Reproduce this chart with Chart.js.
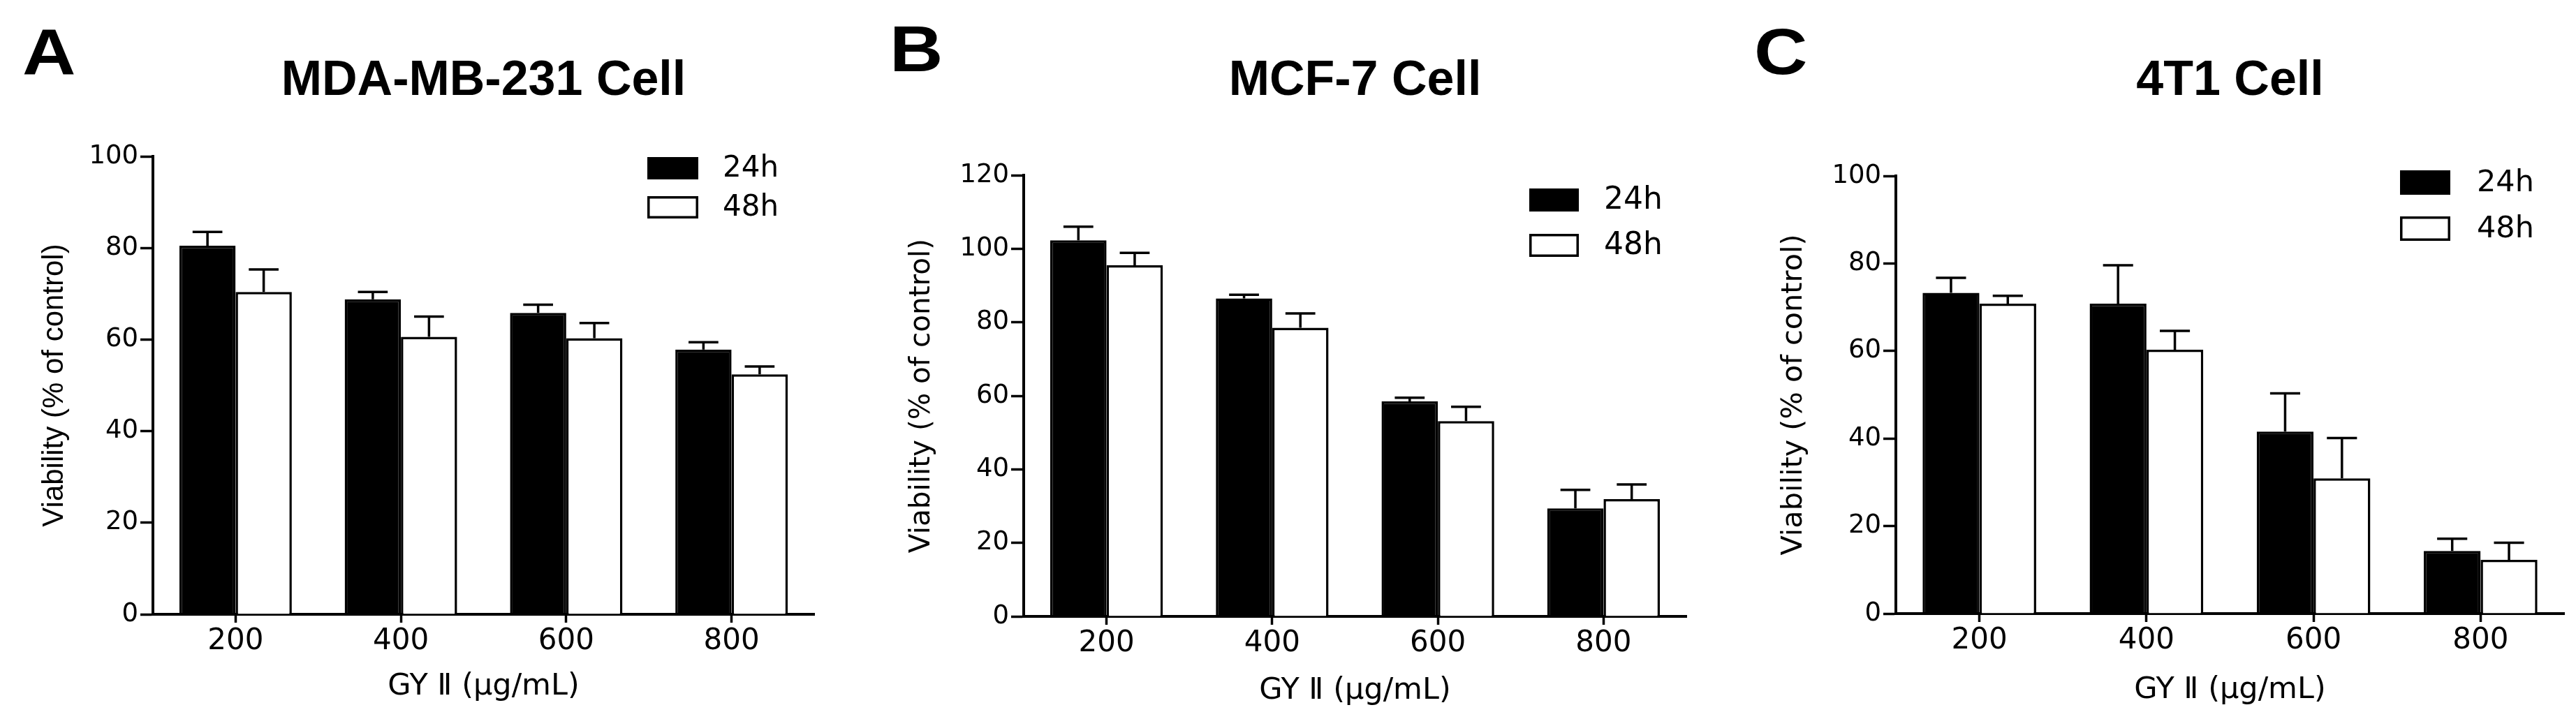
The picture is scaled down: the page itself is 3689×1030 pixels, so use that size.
<!DOCTYPE html>
<html><head><meta charset="utf-8">
<script src="https://cdn.jsdelivr.net/npm/chart.js@4.4.1/dist/chart.umd.min.js"></script>
<style>
html,body{margin:0;padding:0;background:#fff;}
body{width:3689px;height:1030px;position:relative;overflow:hidden;}
canvas{position:absolute;top:0;}
.letter{position:absolute;font-family:"Liberation Sans",Arial,sans-serif;font-weight:bold;font-size:92px;line-height:92px;color:#000;transform:scaleX(1.15);transform-origin:left top;}
</style></head><body>
<div class="letter" style="left:32px;top:28px">A</div>
<div class="letter" style="left:1274px;top:24px">B</div>
<div class="letter" style="left:2512px;top:28px">C</div>
<canvas id="cA" width="1230" height="1030" style="left:0px;width:1230px;height:1030px"></canvas>
<canvas id="cB" width="1230" height="1030" style="left:1230px;width:1230px;height:1030px"></canvas>
<canvas id="cC" width="1229" height="1030" style="left:2460px;width:1229px;height:1030px"></canvas>
<script>
// ---------- data ----------
const categories = ['200', '400', '600', '800'];
const seriesLabels = ['24h', '48h'];
const xTitle = 'GY \u2161 (\u00b5g/mL)';
const yTitle = 'Viability (% of control)';

const titleA = 'MDA-MB-231 Cell';
const mda24 = [80.5, 68.8, 65.8, 57.8];
const mda24Err = [3.0, 1.6, 1.8, 1.6];
const mda48 = [70.4, 60.6, 60.3, 52.4];
const mda48Err = [4.9, 4.4, 3.3, 1.7];
const yMaxA = 100;

const titleB = 'MCF-7 Cell';
const mcf24 = [102.3, 86.5, 58.5, 29.4];
const mcf24Err = [3.7, 1.0, 1.0, 5.0];
const mcf48 = [95.5, 78.5, 53.1, 31.9];
const mcf48Err = [3.4, 3.9, 3.9, 4.0];
const yMaxB = 120;

const titleC = '4T1 Cell';
const t24 = [73.3, 70.8, 41.6, 14.3];
const t24Err = [3.4, 8.8, 8.7, 2.8];
const t48 = [70.8, 60.3, 30.9, 12.3];
const t48Err = [1.8, 4.3, 9.2, 3.9];
const yMaxC = 100;

const yStep = 20;

// ---------- plugins ----------
const errorBars = {
  id: 'errorBars',
  afterDatasetsDraw(chart, args, opts) {
    const ctx = chart.ctx, y = chart.scales.y;
    ctx.save();
    ctx.strokeStyle = '#000';
    ctx.lineWidth = opts.lineWidth;
    ctx.lineCap = 'butt';
    chart.data.datasets.forEach((ds, di) => {
      const meta = chart.getDatasetMeta(di);
      meta.data.forEach((bar, i) => {
        const v = ds.data[i], e = ds.errors[i];
        const y0 = y.getPixelForValue(v), y1 = y.getPixelForValue(v + e);
        const half = bar.width * opts.capRatio / 2;
        ctx.beginPath();
        ctx.moveTo(bar.x, y0); ctx.lineTo(bar.x, y1);
        ctx.moveTo(bar.x - half, y1); ctx.lineTo(bar.x + half, y1);
        ctx.stroke();
      });
    });
    ctx.restore();
  }
};

const boxLegend = {
  id: 'boxLegend',
  afterDraw(chart, args, o) {
    const ctx = chart.ctx, a = chart.chartArea;
    ctx.save();
    ctx.font = o.font;
    ctx.textBaseline = 'middle';
    ctx.textAlign = 'left';
    chart.data.datasets.forEach((ds, i) => {
      const bx = a.right + o.boxLeft, by = a.top + o.top + i * o.gap;
      ctx.fillStyle = ds.backgroundColor;
      ctx.fillRect(bx, by, o.boxW, o.boxH);
      ctx.strokeStyle = '#000';
      ctx.lineWidth = 3.5;
      ctx.strokeRect(bx + 1.75, by + 1.75, o.boxW - 3.5, o.boxH - 3.5);
      ctx.fillStyle = '#000';
      ctx.fillText(ds.label, a.right + o.textLeft, by + o.boxH / 2 + 1);
    });
    ctx.restore();
  }
};

Chart.defaults.color = '#000';
Chart.defaults.font.family = '"DejaVu Sans", sans-serif';

function makeChart(id, p) {
  return new Chart(document.getElementById(id), {
    type: 'bar',
    data: {
      labels: categories,
      datasets: [
        { label: seriesLabels[0], data: p.s1, errors: p.e1, backgroundColor: '#000', borderColor: '#000', borderWidth: 3.5 },
        { label: seriesLabels[1], data: p.s2, errors: p.e2, backgroundColor: '#fff', borderColor: '#000', borderWidth: 3.5 }
      ]
    },
    options: {
      responsive: false,
      animation: false,
      devicePixelRatio: 1,
      categoryPercentage: 0.68,
      barPercentage: 1.0,
      layout: { padding: { left: 20, right: p.padRight, top: 0, bottom: 10 } },
      plugins: {
        legend: { display: false },
        tooltip: { enabled: false },
        title: {
          display: true, text: p.title, fullSize: false,
          font: { family: '"Liberation Sans", Arial, sans-serif', size: 70, weight: 'bold', lineHeight: 1.0 },
          color: '#000',
          padding: { top: 82, bottom: p.titleBottom }
        },
        errorBars: { lineWidth: 3.5, capRatio: 0.53 },
        boxLegend: p.legend
      },
      scales: {
        x: {
          type: 'category',
          offset: true,
          grid: { offset: false, drawOnChartArea: false, drawTicks: true, tickLength: 12, tickWidth: 3.5, tickColor: '#000' },
          border: { display: true, color: '#000', width: 4 },
          ticks: { font: { size: 42, lineHeight: 1.0 }, padding: 6, color: '#000', maxRotation: 0 },
          title: { display: true, text: xTitle, font: { size: 43, lineHeight: 1.0 }, color: '#000', padding: { top: 0, bottom: p.xTitlePad } },
          afterFit(s) { s.height = p.hx; }
        },
        y: {
          min: 0, max: p.yMax,
          grid: { drawOnChartArea: false, drawTicks: true, tickLength: 18, tickWidth: 3.5, tickColor: '#000' },
          border: { display: true, color: '#000', width: 4 },
          ticks: { stepSize: yStep, font: { size: 37, lineHeight: 1.0 }, padding: 3, color: '#000' },
          title: { display: true, text: yTitle, font: p.yTitleFont, color: '#000', padding: { top: p.yTitlePad, bottom: 0 } },
          afterFit(s) { s.width = p.wy; }
        }
      }
    },
    plugins: [errorBars, boxLegend]
  });
}

makeChart('cA', {
  title: titleA, s1: mda24, e1: mda24Err, s2: mda48, e2: mda48Err, yMax: yMaxA,
  padRight: 64, wy: 199, hx: 140, titleBottom: 72, xTitlePad: 15, yTitlePad: 37,
  yTitleFont: { family: '"Liberation Sans", Arial, sans-serif', size: 42, lineHeight: 1.0 },
  legend: { boxLeft: -239, top: 1, gap: 56, textLeft: -131, boxW: 73, boxH: 32, font: '42px "DejaVu Sans", sans-serif' }
});
makeChart('cB', {
  title: titleB, s1: mcf24, e1: mcf24Err, s2: mcf48, e2: mcf48Err, yMax: yMaxB,
  padRight: 45, wy: 216, hx: 137, titleBottom: 99, xTitlePad: 9, yTitlePad: 50,
  yTitleFont: { family: '"DejaVu Sans", sans-serif', size: 40.5, lineHeight: 1.0 },
  legend: { boxLeft: -225, top: 19, gap: 65, textLeft: -118, boxW: 71, boxH: 33, font: '44px "DejaVu Sans", sans-serif' }
});
makeChart('cC', {
  title: titleC, s1: t24, e1: t24Err, s2: t48, e2: t48Err, yMax: yMaxC,
  padRight: 17, wy: 235, hx: 141, titleBottom: 100, xTitlePad: 10, yTitlePad: 69,
  yTitleFont: { family: '"DejaVu Sans", sans-serif', size: 41.4, lineHeight: 1.0 },
  legend: { boxLeft: -235, top: -8, gap: 66, textLeft: -125, boxW: 72, boxH: 35, font: '43px "DejaVu Sans", sans-serif' }
});
</script>
</body></html>
